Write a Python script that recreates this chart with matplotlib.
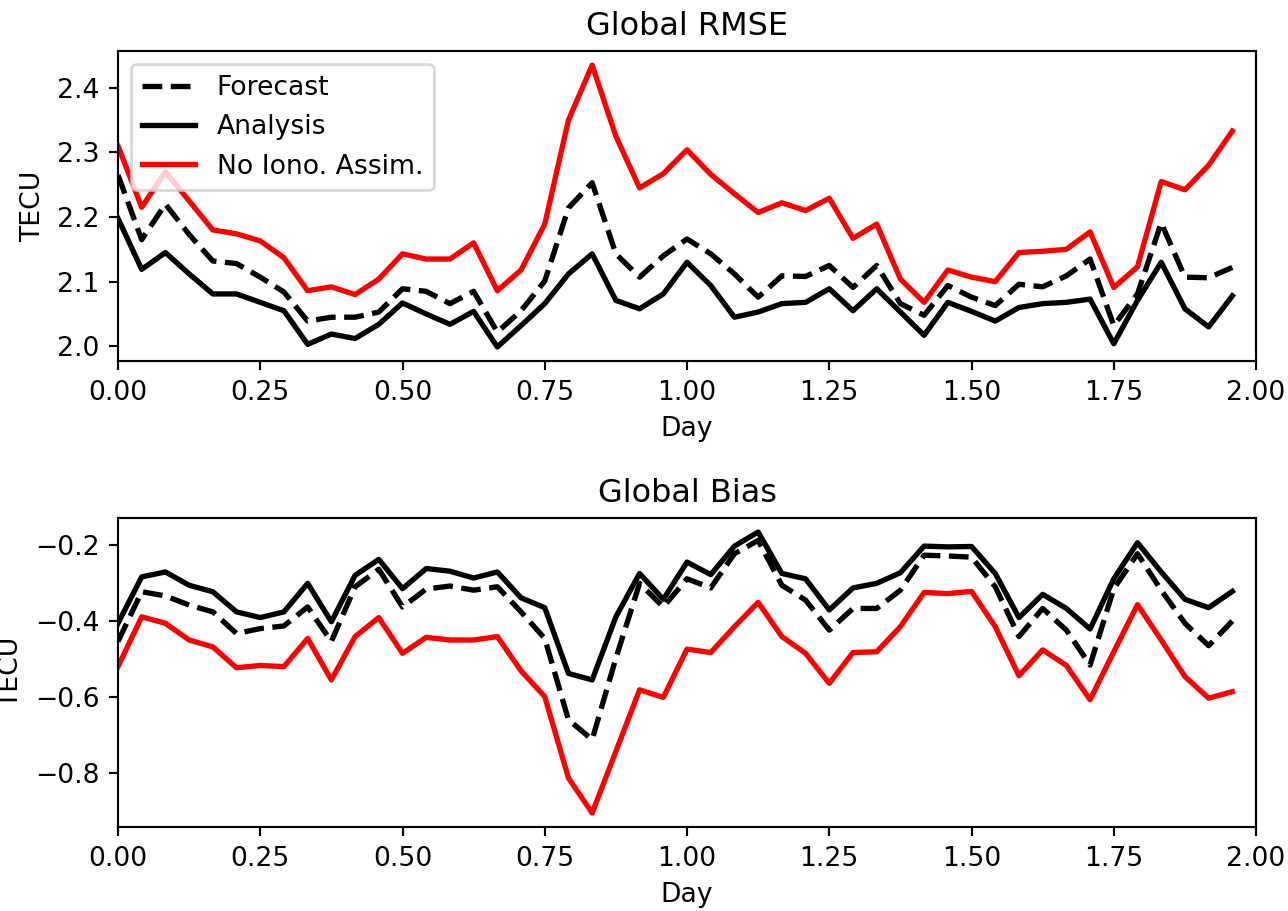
import numpy as np
import matplotlib
matplotlib.use("Agg")
import matplotlib.pyplot as plt

plt.rcParams["lines.linewidth"] = 2

# hourly samples over two days
day = np.arange(48) / 24.0

rmse_forecast = [2.265, 2.165, 2.220, 2.173, 2.132, 2.128, 2.107, 2.084, 2.039, 2.045,
                 2.045, 2.053, 2.089, 2.085, 2.066, 2.085, 2.022, 2.055, 2.101, 2.214,
                 2.253, 2.143, 2.107, 2.140, 2.166, 2.143, 2.112, 2.076, 2.109, 2.108,
                 2.125, 2.091, 2.125, 2.066, 2.048, 2.094, 2.076, 2.063, 2.096, 2.092,
                 2.109, 2.135, 2.032, 2.081, 2.191, 2.107, 2.106, 2.122]
rmse_analysis = [2.198, 2.119, 2.145, 2.112, 2.081, 2.081, 2.068, 2.055, 2.003, 2.019,
                 2.012, 2.034, 2.067, 2.050, 2.034, 2.054, 1.999, 2.032, 2.066, 2.112,
                 2.143, 2.071, 2.058, 2.081, 2.130, 2.094, 2.045, 2.053, 2.066, 2.068,
                 2.089, 2.055, 2.089, 2.053, 2.017, 2.068, 2.054, 2.039, 2.060, 2.066,
                 2.068, 2.073, 2.004, 2.071, 2.130, 2.058, 2.030, 2.078]
rmse_noiono = [2.310, 2.215, 2.270, 2.225, 2.180, 2.174, 2.163, 2.137, 2.086, 2.092,
               2.080, 2.104, 2.143, 2.135, 2.135, 2.160, 2.086, 2.118, 2.189, 2.350,
               2.435, 2.325, 2.245, 2.267, 2.304, 2.266, 2.236, 2.207, 2.222, 2.210,
               2.229, 2.167, 2.189, 2.104, 2.068, 2.118, 2.107, 2.100, 2.145, 2.147,
               2.150, 2.177, 2.091, 2.123, 2.255, 2.242, 2.280, 2.333]

bias_forecast = [-0.453, -0.322, -0.333, -0.357, -0.375, -0.432, -0.419, -0.412, -0.362, -0.453,
                 -0.309, -0.263, -0.362, -0.315, -0.307, -0.318, -0.309, -0.375, -0.445, -0.659,
                 -0.711, -0.497, -0.300, -0.362, -0.288, -0.312, -0.222, -0.187, -0.305, -0.344,
                 -0.423, -0.366, -0.366, -0.318, -0.226, -0.228, -0.231, -0.309, -0.440, -0.366,
                 -0.423, -0.515, -0.314, -0.222, -0.318, -0.405, -0.464, -0.399]
bias_analysis = [-0.405, -0.283, -0.270, -0.305, -0.322, -0.375, -0.390, -0.375, -0.300, -0.401,
                 -0.279, -0.237, -0.314, -0.261, -0.268, -0.286, -0.270, -0.338, -0.364, -0.537,
                 -0.554, -0.388, -0.274, -0.342, -0.244, -0.277, -0.202, -0.165, -0.274, -0.288,
                 -0.370, -0.312, -0.300, -0.272, -0.202, -0.204, -0.203, -0.274, -0.390, -0.329,
                 -0.366, -0.420, -0.288, -0.193, -0.270, -0.342, -0.364, -0.321]
bias_noiono = [-0.519, -0.388, -0.405, -0.449, -0.467, -0.522, -0.516, -0.519, -0.445, -0.554,
               -0.440, -0.390, -0.484, -0.442, -0.449, -0.449, -0.440, -0.530, -0.598, -0.812,
               -0.904, -0.742, -0.580, -0.600, -0.473, -0.482, -0.414, -0.350, -0.440, -0.484,
               -0.563, -0.482, -0.480, -0.414, -0.324, -0.327, -0.321, -0.414, -0.543, -0.475,
               -0.516, -0.606, -0.480, -0.356, -0.449, -0.545, -0.602, -0.585]

DPI = 192
fig = plt.figure(figsize=(1288 / DPI, 911 / DPI), dpi=DPI)
ax1 = fig.add_axes([0.0916, 0.6037, 0.8836, 0.3403])
ax2 = fig.add_axes([0.0916, 0.0922, 0.8836, 0.3392])

ax1.plot(day, rmse_forecast, "k--", label="Forecast")
ax1.plot(day, rmse_analysis, "k-", label="Analysis")
ax1.plot(day, rmse_noiono, "r-", label="No Iono. Assim.")
ax1.set_title("Global RMSE")
ax1.set_xlabel("Day")
ax1.set_ylabel("TECU")
ax1.set_xlim(0, 2)
ax1.legend(loc="upper left")

ax2.plot(day, bias_forecast, "k--")
ax2.plot(day, bias_analysis, "k-")
ax2.plot(day, bias_noiono, "r-")
ax2.set_title("Global Bias")
ax2.set_xlabel("Day")
ax2.set_ylabel("TECU")
ax2.set_xlim(0, 2)

fig.savefig("out.png", dpi=DPI)
